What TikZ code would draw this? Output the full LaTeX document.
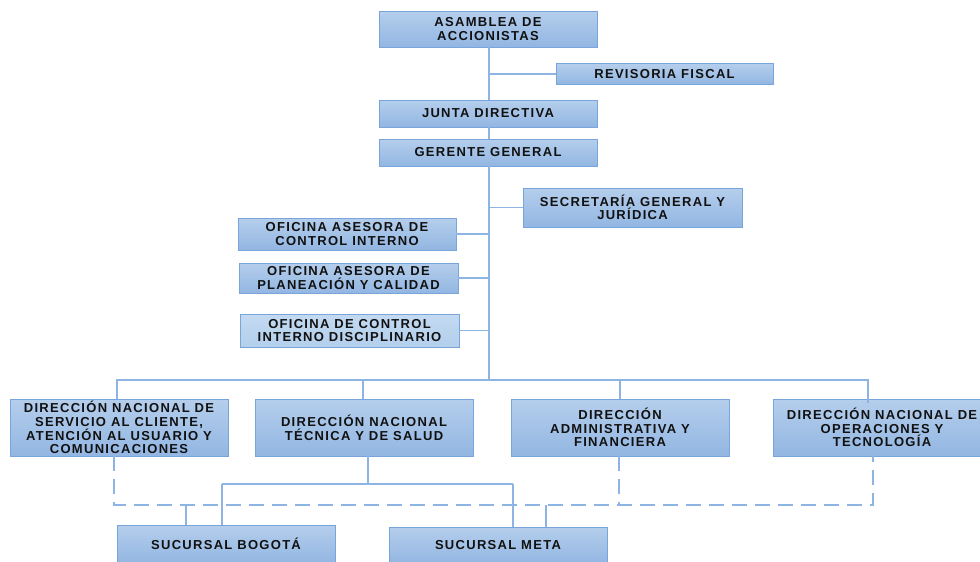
\documentclass[tikz,border=0pt]{standalone}
\usepackage{fontspec}
\newfontfamily\orgfont{Liberation Sans}[LetterSpace=10]
\definecolor{boxtop}{HTML}{B5CEEC}
\definecolor{boxbot}{HTML}{92B6E2}
\definecolor{boxline}{HTML}{78A5DA}
\definecolor{conn}{HTML}{8EB4E3}
\definecolor{lighttop}{HTML}{C3DAF1}
\definecolor{lightbot}{HTML}{B3CFEC}
\definecolor{txt}{HTML}{111111}
\begin{document}
\begin{tikzpicture}[x=1pt,y=-1pt,
  orgbox/.style={draw=boxline, line width=0.9pt, top color=boxtop, bottom color=boxbot,
    inner sep=0pt, align=center, text=txt,
    font=\orgfont\bfseries\fontsize{13}{13.6}\selectfont},
  lightbox/.style={orgbox, top color=lighttop, bottom color=lightbot},
  link/.style={draw=conn, line width=1.2pt},
  dlink/.style={draw=conn, line width=1.2pt, dash pattern=on 15pt off 8pt}]
\useasboundingbox (0,0) rectangle (980,562);
\clip (0,0) rectangle (980,562);
% top column
\node[orgbox, minimum width=218, minimum height=36] (A) at (488,29) {ASAMBLEA DE\\ACCIONISTAS};
\node[orgbox, minimum width=217, minimum height=21] (R) at (664.5,74) {REVISORIA FISCAL};
\node[orgbox, minimum width=218, minimum height=27] (J) at (488,113.5) {JUNTA DIRECTIVA};
\node[orgbox, minimum width=218, minimum height=27] (G) at (488,152.5) {GERENTE GENERAL};
\node[orgbox, minimum width=219, minimum height=39] (S) at (632.5,207.5) {SECRETARÍA GENERAL Y\\JURÍDICA};
\node[orgbox, minimum width=218, minimum height=32] (O1) at (347,234) {OFICINA ASESORA DE\\CONTROL INTERNO};
\node[orgbox, minimum width=219, minimum height=30] (O2) at (348.5,278) {OFICINA ASESORA DE\\PLANEACIÓN Y CALIDAD};
\node[lightbox, minimum width=219, minimum height=33] (O3) at (349.5,330.5) {OFICINA DE CONTROL\\INTERNO DISCIPLINARIO};
% directions
\node[orgbox, minimum width=218, minimum height=57] (D1) at (119,427.5) {DIRECCIÓN NACIONAL DE\\SERVICIO AL CLIENTE,\\ATENCIÓN AL USUARIO Y\\COMUNICACIONES};
\node[orgbox, minimum width=218, minimum height=57] (D2) at (364,427.5) {DIRECCIÓN NACIONAL\\TÉCNICA Y DE SALUD};
\node[orgbox, minimum width=218, minimum height=57] (D3) at (620,427.5) {DIRECCIÓN\\ADMINISTRATIVA Y\\FINANCIERA};
\node[orgbox, minimum width=218, minimum height=57] (D4) at (882,427.5) {DIRECCIÓN NACIONAL DE\\OPERACIONES Y\\TECNOLOGÍA};
% branches
\node[orgbox, minimum width=218, minimum height=38] (B) at (226,544) {SUCURSAL BOGOTÁ};
\node[orgbox, minimum width=218, minimum height=36] (M) at (498,545) {SUCURSAL META};
% coordinates
\coordinate (tEnd) at (489,380);
\coordinate (bL) at (117,380);
\coordinate (bR) at (868,380);
\coordinate (b2) at (363,380);
\coordinate (s2) at (368,456);
\coordinate (s2m) at (368,484);
\coordinate (sL) at (222,484);
\coordinate (sR) at (513,484);
\coordinate (dL) at (114,505);
\coordinate (dR) at (873,505);
\coordinate (d3) at (619,505);
\coordinate (dB) at (186,505);
\coordinate (dM) at (546,505);
% trunk
\draw[link] (A.south -| tEnd) -- (J.north -| tEnd);
\draw[link] (J.south -| tEnd) -- (G.north -| tEnd);
\draw[link] (G.south -| tEnd) -- (tEnd);
\draw[link] (R.west -| tEnd) -- (R.west);
\draw[link] (S.west -| tEnd) -- (S.west);
\draw[link] (O1.east) -- (O1.east -| tEnd);
\draw[link] (O2.east) -- (O2.east -| tEnd);
\draw[link] (O3.east) -- (O3.east -| tEnd);
% bus
\draw[link] (tEnd) -- (bL) -- (D1.north -| bL);
\draw[link] (tEnd) -- (bR) -- ([yshift=-4pt]D4.north -| bR);
\draw[link] (b2) -- (D2.north -| b2);
\draw[link] (D3.north |- bL) -- (D3.north);
% solid tree below D2
\draw[link] (D2.south -| s2) -- (s2m);
\draw[link] (sL) -- (sR);
\draw[link] (sL) -- (B.north -| sL);
\draw[link] (sR) -- (M.north -| sR);
% dashed
\draw[dlink] (D1.south -| dL) -- (dL) -- (dR) -- (D4.south -| dR);
\draw[dlink] (D3.south -| d3) -- (d3);
\draw[link] (dB) -- (B.north -| dB);
\draw[link] (dM) -- (M.north -| dM);
\end{tikzpicture}
\end{document}
